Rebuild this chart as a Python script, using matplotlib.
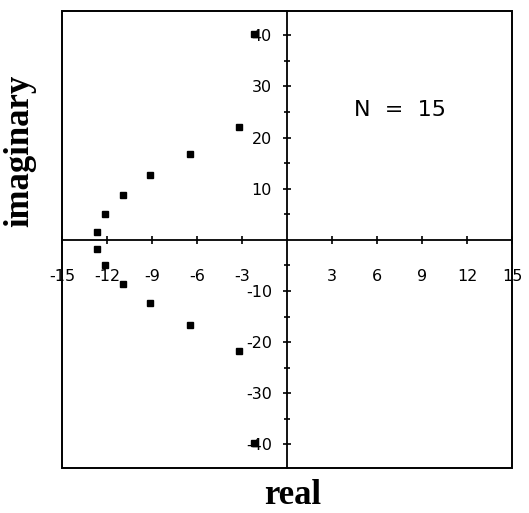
import numpy as np
import matplotlib
matplotlib.use("Agg")
import matplotlib.pyplot as plt
from matplotlib.patches import Rectangle

# roots (conjugate pairs)
real = [-2.22, -3.22, -6.51, -9.16, -10.96, -12.13, -12.68,
        -12.68, -12.13, -10.96, -9.16, -6.51, -3.22, -2.22]
imag = [40.2, 22.0, 16.8, 12.6, 8.7, 5.1, 1.6,
        -1.7, -4.9, -8.7, -12.4, -16.7, -21.8, -39.8]

x_ticks = [-15, -12, -9, -6, -3, 3, 6, 9, 12, 15]
y_ticks = [-40, -30, -20, -10, 10, 20, 30, 40]
y_minor = [-35, -25, -15, -5, 5, 15, 25, 35]

fig = plt.figure(figsize=(5.29, 5.13), dpi=100)
ax = fig.add_axes([0.118, 0.087, 0.850, 0.892])

ax.plot(real, imag, linestyle="none", marker="s", markersize=5,
        color="black", zorder=5, clip_on=False)

ax.set_xlim(-15, 15)
ax.set_ylim(-44.7, 44.8)

# axes crossing at the origin
ax.spines["left"].set_position(("data", 0))
ax.spines["bottom"].set_position(("data", 0))
ax.spines["top"].set_visible(False)
ax.spines["right"].set_visible(False)
for s in ["left", "bottom"]:
    ax.spines[s].set_linewidth(1.3)

# outer frame
ax.add_patch(Rectangle((0, 0), 1, 1, transform=ax.transAxes, fill=False,
                       linewidth=1.4, edgecolor="black", clip_on=False))

ax.set_xticks(x_ticks)
ax.set_xticklabels([str(v) for v in x_ticks])
ax.set_yticks(y_ticks)
ax.set_yticklabels([str(v) for v in y_ticks])
ax.set_yticks(y_minor, minor=True)

ax.tick_params(axis="x", direction="inout", length=6, width=1.2,
               pad=18, labelsize=11.5)
ax.tick_params(axis="y", which="major", direction="inout", length=6,
               width=1.2, pad=8, labelsize=11.5)
ax.tick_params(axis="y", which="minor", direction="inout", length=5, width=1.2)

ax.text(0.751, 0.784, "N  =  15", transform=ax.transAxes, fontsize=16,
        ha="center", va="center")

fig.text(0.038, 0.706, "imaginary", rotation=90, ha="center", va="center",
         fontsize=25, fontweight="bold", family="Liberation Serif")
fig.text(0.554, 0.035, "real", ha="center", va="center",
         fontsize=25, fontweight="bold", family="Liberation Serif")

fig.savefig("out.png", dpi=100)
